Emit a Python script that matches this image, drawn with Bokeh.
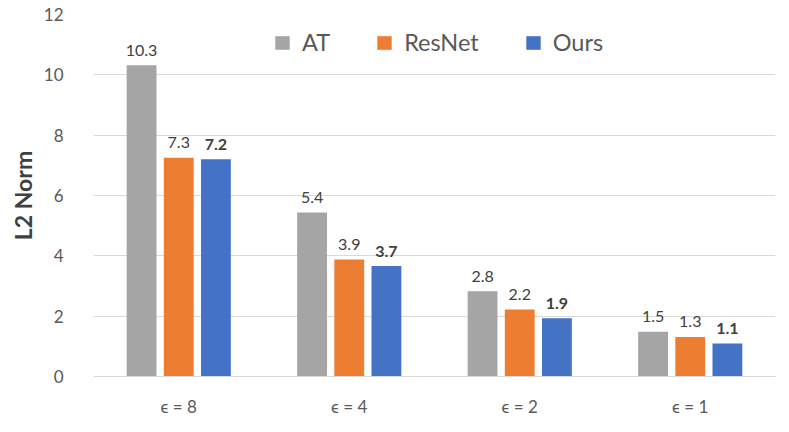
from bokeh.plotting import figure
from bokeh.layouts import row
from bokeh.models import ColumnDataSource, FactorRange, Legend, LegendItem, Range1d, FixedTicker, Spacer
from bokeh.transform import dodge
from bokeh.core.properties import value
from bokeh.embed import file_html
from bokeh.resources import INLINE

categories = ["ϵ = 8", "ϵ = 4", "ϵ = 2", "ϵ = 1"]
series_names = ["AT", "ResNet", "Ours"]
at_values = [10.32, 5.44, 2.83, 1.48]
resnet_values = [7.25, 3.88, 2.22, 1.31]
ours_values = [7.2, 3.66, 1.93, 1.09]
at_labels = ["10.3", "5.4", "2.8", "1.5"]
resnet_labels = ["7.3", "3.9", "2.2", "1.3"]
ours_labels = ["7.2", "3.7", "1.9", "1.1"]
y_ticks = [0, 2, 4, 6, 8, 10, 12]

colors = ["#A5A5A5", "#ED7D31", "#4472C4"]
FONT = "Lato"

src = ColumnDataSource(dict(
    cat=categories,
    at=at_values, resnet=resnet_values, ours=ours_values,
    at_l=at_labels, resnet_l=resnet_labels, ours_l=ours_labels,
))

fig = figure(width=776, height=419, x_range=FactorRange(*categories),
             y_range=Range1d(0, 12), output_backend="svg", toolbar_location=None,
             min_border_left=84, min_border_right=6, min_border_top=14, min_border_bottom=36)

offsets = [-0.218, 0.0, 0.218]
cols = ["at", "resnet", "ours"]
lcols = ["at_l", "resnet_l", "ours_l"]
renderers = []
for off, c, lc, col in zip(offsets, cols, lcols, colors):
    r = fig.vbar(x=dodge("cat", off, range=fig.x_range), top=c, width=0.175, source=src,
                 fill_color=col, line_color=None)
    renderers.append(r)
    fig.text(x=dodge("cat", off, range=fig.x_range), y=c, text=lc, source=src,
             text_align="center", text_baseline="alphabetic", y_offset=-15,
             text_font=value(FONT), text_font_size="16px", text_color="#404040",
             text_font_style="bold" if c == "ours" else "normal")

legend = Legend(items=[LegendItem(label=n, renderers=[r]) for n, r in zip(series_names, renderers)],
                orientation="horizontal", location=(180, 320),
                border_line_color=None, background_fill_alpha=0,
                label_text_font=FONT, label_text_font_size="23.5px", label_text_color="#595959",
                glyph_width=18, glyph_height=17, spacing=45, label_standoff=11,
                margin=0, padding=8)
fig.add_layout(legend)

fig.outline_line_color = None
fig.xgrid.grid_line_color = None
fig.ygrid.grid_line_color = "#d9d9d9"
fig.ygrid.grid_line_width = 1

fig.yaxis.ticker = FixedTicker(ticks=y_ticks)
fig.yaxis.axis_line_color = None
fig.yaxis.major_tick_line_color = None
fig.yaxis.minor_tick_line_color = None
fig.yaxis.major_label_standoff = 24
fig.yaxis.major_label_text_font = FONT
fig.yaxis.major_label_text_font_size = "17px"
fig.yaxis.major_label_text_color = "#595959"
fig.yaxis.axis_label = "L2 Norm"
fig.yaxis.axis_label_text_font = FONT
fig.yaxis.axis_label_text_font_size = "23px"
fig.yaxis.axis_label_text_font_style = "bold"
fig.yaxis.axis_label_text_color = "#404040"
fig.yaxis.axis_label_standoff = 4

fig.xaxis.axis_line_color = "#d9d9d9"
fig.xaxis.major_tick_line_color = None
fig.xaxis.minor_tick_line_color = None
fig.xaxis.major_label_standoff = 13
fig.xaxis.major_label_text_font = FONT
fig.xaxis.major_label_text_font_size = "17px"
fig.xaxis.major_label_text_color = "#595959"

p = row(Spacer(width=5, height=419), fig)
open("out.html", "w").write(file_html(p, INLINE))
